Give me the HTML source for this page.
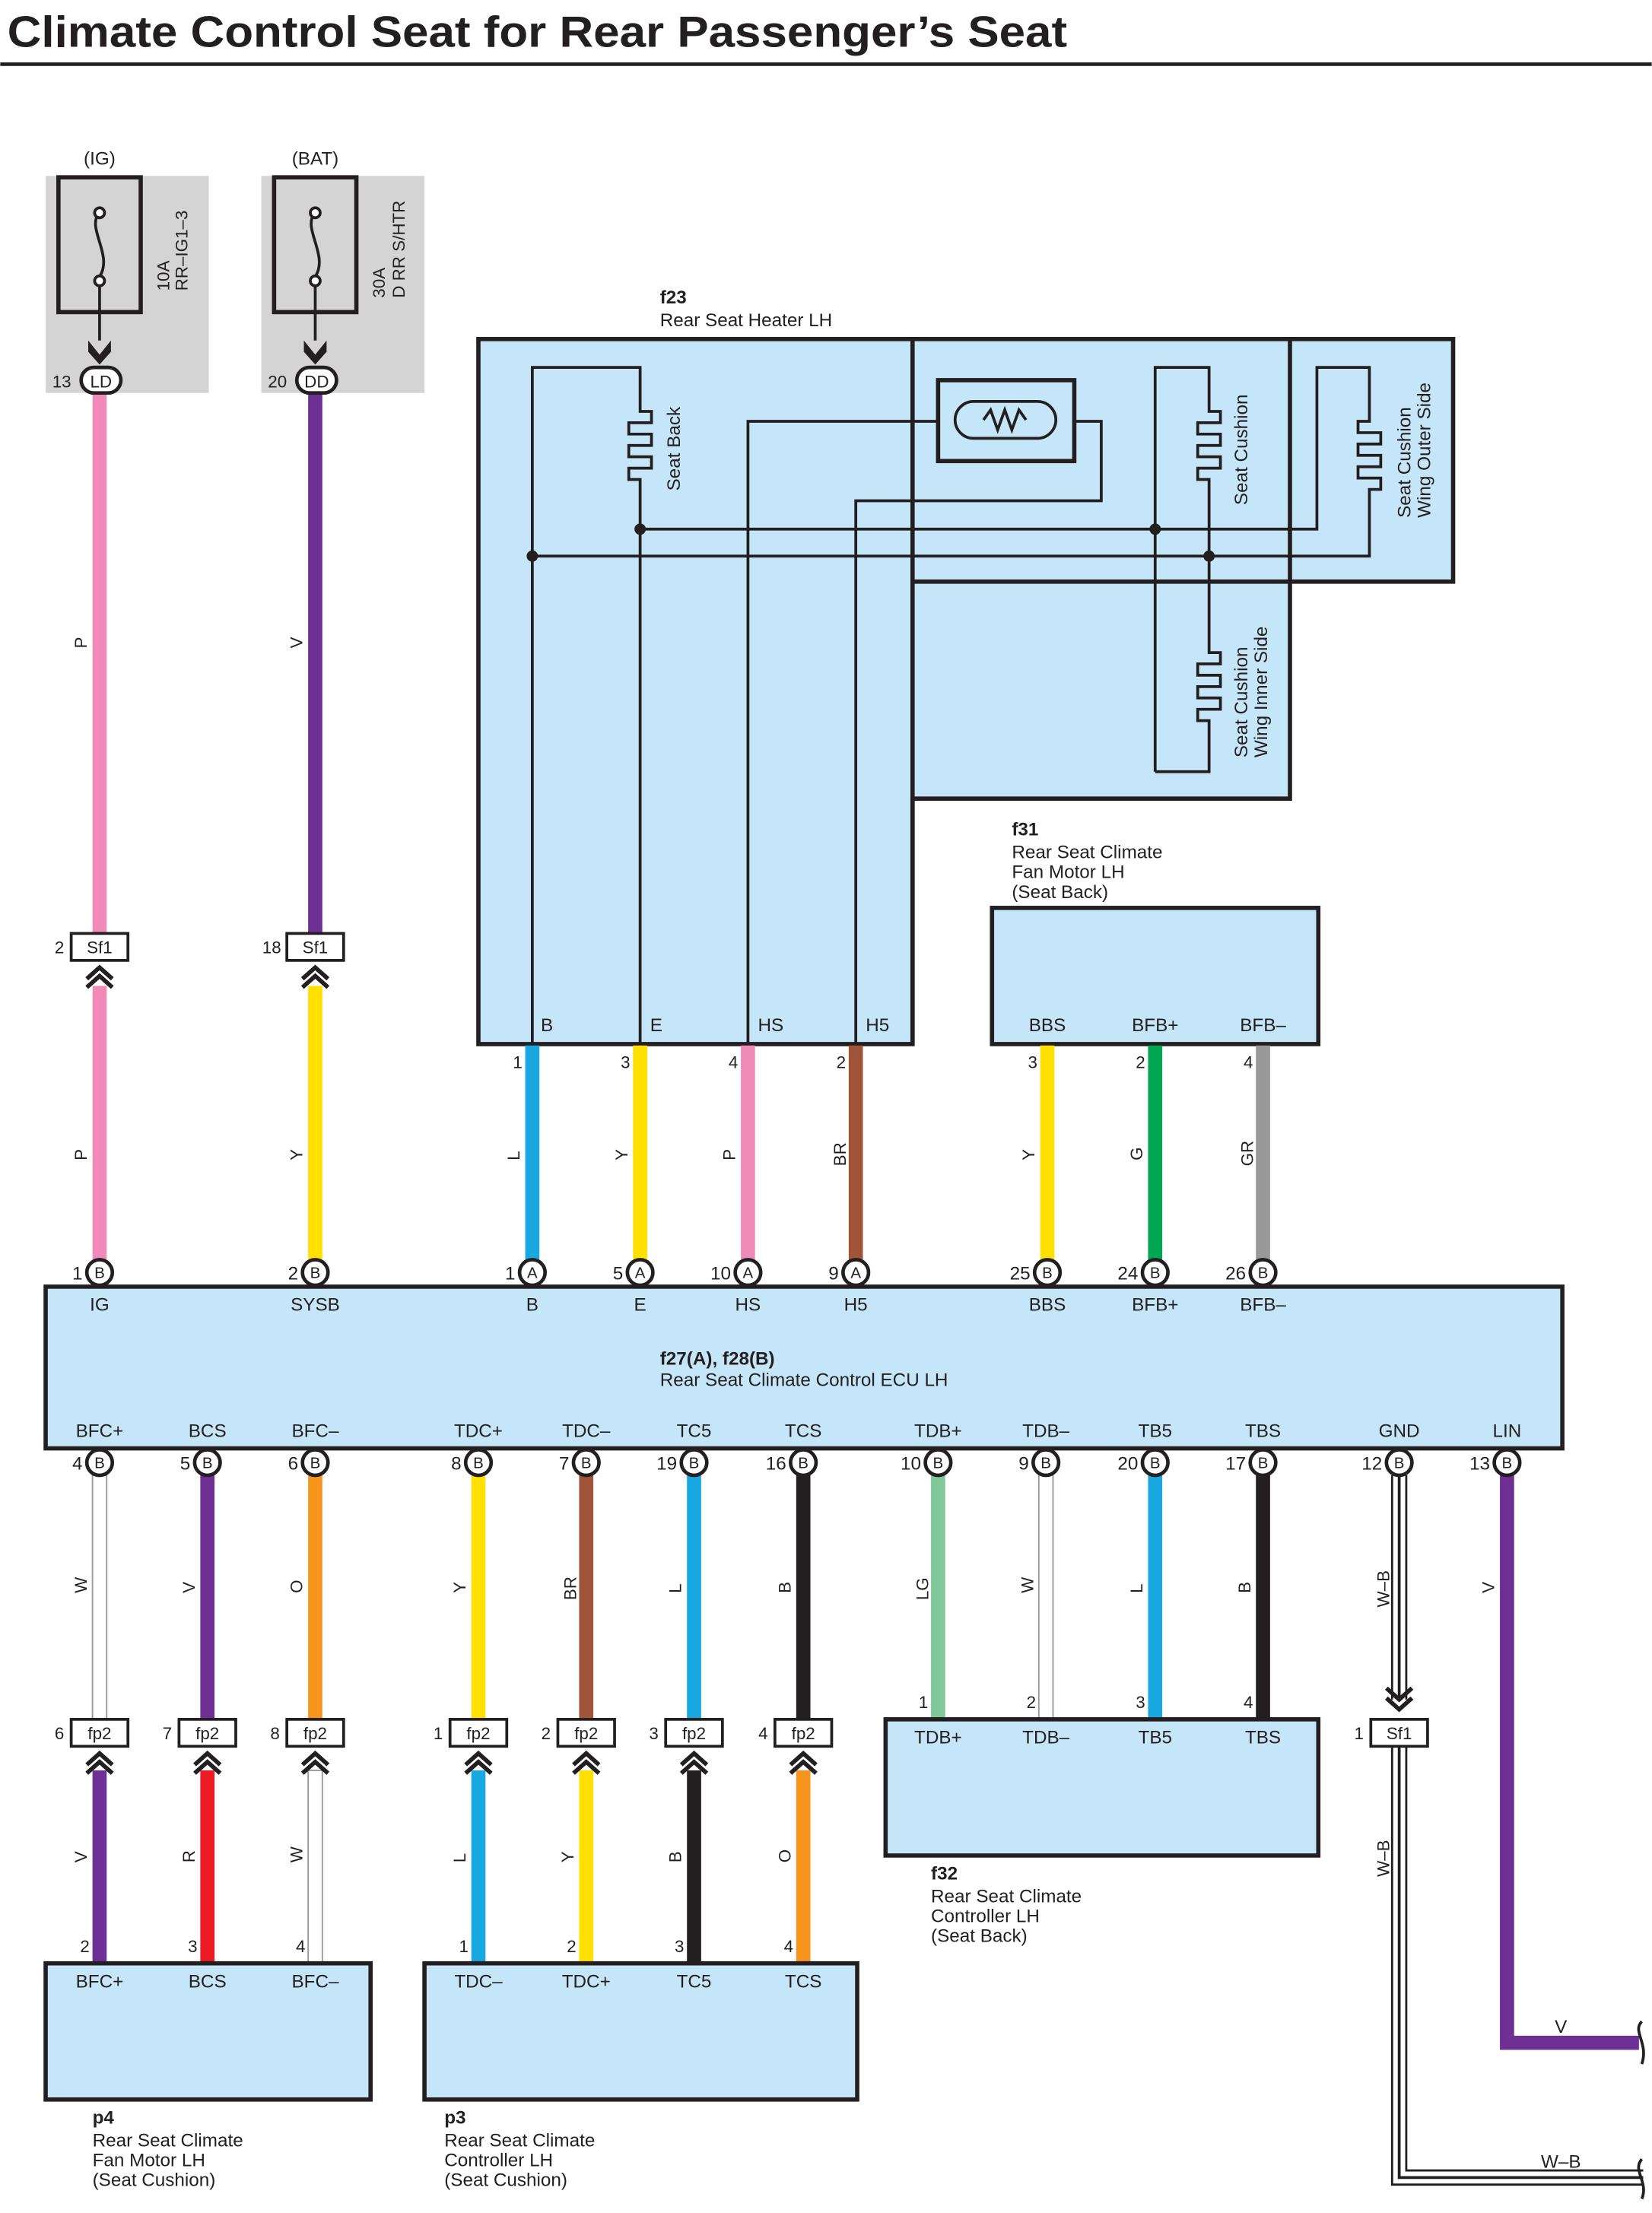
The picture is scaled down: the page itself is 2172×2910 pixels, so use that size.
<!DOCTYPE html>
<html><head><meta charset="utf-8"><style>
html,body{margin:0;padding:0;background:#fff}
svg{display:block}
text{font-family:"Liberation Sans",sans-serif;fill:#231f20}
</style></head><body>
<svg width="2172" height="2910" viewBox="0 0 1164 1560" xmlns="http://www.w3.org/2000/svg">
<defs>
<g id="chev"><path d="M-9,6 L0,-2 L9,6 M-9,12 L0,4 L9,12" fill="none" stroke="#231f20" stroke-width="3"/></g>
</defs>
<text x="5" y="33" font-size="31" font-weight="bold" textLength="747" lengthAdjust="spacingAndGlyphs">Climate Control Seat for Rear Passenger’s Seat</text>
<rect x="0" y="44" width="1164" height="2.5" fill="#231f20"/>

<!-- fuses -->
<rect x="32" y="124" width="115" height="153" fill="#d4d4d4"/>
<rect x="184" y="124" width="115" height="153" fill="#d4d4d4"/>
<text x="70" y="116" font-size="13" text-anchor="middle">(IG)</text>
<text x="222" y="116" font-size="13" text-anchor="middle">(BAT)</text>
<rect x="41" y="125" width="58" height="95" fill="#d4d4d4" stroke="#231f20" stroke-width="3"/>
<rect x="193" y="125" width="58" height="95" fill="#d4d4d4" stroke="#231f20" stroke-width="3"/>
<path d="M70,150 C60,160 80,180 70,195 V240" fill="none" stroke="#231f20" stroke-width="2"/>
<circle cx="70" cy="150" r="3.5" fill="#fff" stroke="#231f20" stroke-width="2"/>
<circle cx="70" cy="198" r="3.5" fill="#fff" stroke="#231f20" stroke-width="2"/>
<path d="M222,150 C212,160 232,180 222,195 V240" fill="none" stroke="#231f20" stroke-width="2"/>
<circle cx="222" cy="150" r="3.5" fill="#fff" stroke="#231f20" stroke-width="2"/>
<circle cx="222" cy="198" r="3.5" fill="#fff" stroke="#231f20" stroke-width="2"/>
<path d="M62,240 L70,250 L78,240 L78,248 L70,257 L62,248Z" fill="#231f20"/>
<path d="M214,240 L222,250 L230,240 L230,248 L222,257 L214,248Z" fill="#231f20"/>
<text transform="translate(119,205) rotate(-90)" font-size="12">10A</text>
<text transform="translate(132,205) rotate(-90)" font-size="12">RR–IG1–3</text>
<text transform="translate(271,210) rotate(-90)" font-size="12">30A</text>
<text transform="translate(285,210) rotate(-90)" font-size="12">D RR S/HTR</text>

<!-- wires top-left -->
<rect x="65" y="277" width="10" height="383" fill="#f08ab8"/>
<rect x="217" y="277" width="10" height="383" fill="#6f3096"/>
<rect x="65" y="695" width="10" height="195" fill="#f08ab8"/>
<rect x="217" y="695" width="10" height="195" fill="#ffe000"/>
<rect x="57" y="259" width="28" height="18" rx="9" fill="#fff" stroke="#231f20" stroke-width="2.5"/>
<rect x="209" y="259" width="28" height="18" rx="9" fill="#fff" stroke="#231f20" stroke-width="2.5"/>
<text x="71" y="273" font-size="12" text-anchor="middle">LD</text>
<text x="223" y="273" font-size="12" text-anchor="middle">DD</text>
<text x="50" y="273" font-size="12" text-anchor="end">13</text>
<text x="202" y="273" font-size="12" text-anchor="end">20</text>

<!-- f23 -->
<text x="465" y="214" font-size="13" font-weight="bold">f23</text>
<text x="465" y="230" font-size="13">Rear Seat Heater LH</text>
<path d="M337,239 H1024 V410 H909 V563 H643 V736 H337Z" fill="#c5e6f8" stroke="#231f20" stroke-width="3"/>
<path d="M643,239 V736 M643,410 H909 M909,239 V410" fill="none" stroke="#231f20" stroke-width="3"/>
<g fill="none" stroke="#231f20" stroke-width="2">
<path d="M375,736 V259 H451 V290 H459 V298 H443 V306 H459 V314 H443 V322 H459 V330 H443 V338 H451 V736"/>
<path d="M375,392 H965 V345 H973 V337 H957 V329 H973 V321 H957 V313 H973 V305 H957 V297 H965 V259 H928 V373 H451"/>
<path d="M814,544 V259 H852 V290 H860 V298 H844 V306 H860 V314 H844 V322 H860 V330 H844 V338 H852 V460 H860 V468 H844 V476 H860 V484 H844 V492 H860 V500 H844 V508 H852 V544 H814"/>
<path d="M527,736 V297 H661 M603,736 V353 H776 V297 H757"/>
<path d="M686,283 H731 A13,13 0 0 1 731,309 H686 A13,13 0 0 1 686,283Z"/>
<path d="M693,296 L698,289 L703,303 L708,289 L713,303 L718,289 L723,296"/>
</g>
<rect x="661" y="268" width="96" height="57" fill="none" stroke="#231f20" stroke-width="3"/>
<g fill="#231f20"><circle cx="375" cy="392" r="4"/><circle cx="451" cy="373" r="4"/><circle cx="814" cy="373" r="4"/><circle cx="852" cy="392" r="4"/></g>
<text transform="translate(479,346) rotate(-90)" font-size="13">Seat Back</text>
<text transform="translate(879,356) rotate(-90)" font-size="13">Seat Cushion</text>
<text transform="translate(994,365) rotate(-90)" font-size="13">Seat Cushion</text>
<text transform="translate(1008,365) rotate(-90)" font-size="13">Wing Outer Side</text>
<text transform="translate(879,534) rotate(-90)" font-size="13">Seat Cushion</text>
<text transform="translate(893,534) rotate(-90)" font-size="13">Wing Inner Side</text>
<g font-size="13"><text x="381" y="727">B</text><text x="458" y="727">E</text><text x="534" y="727">HS</text><text x="610" y="727">H5</text></g>

<!-- f31 -->
<text x="713" y="589" font-size="13" font-weight="bold">f31</text>
<text x="713" y="605" font-size="13">Rear Seat Climate</text>
<text x="713" y="619" font-size="13">Fan Motor LH</text>
<text x="713" y="633" font-size="13">(Seat Back)</text>
<rect x="699" y="640" width="230" height="96" fill="#c5e6f8" stroke="#231f20" stroke-width="3"/>
<g font-size="13" text-anchor="middle"><text x="738" y="727">BBS</text><text x="814" y="727">BFB+</text><text x="890" y="727">BFB–</text></g>

<!-- upper middle wires -->
<rect x="370" y="737" width="10" height="153" fill="#1aa8e0"/>
<rect x="446" y="737" width="10" height="153" fill="#ffe000"/>
<rect x="522" y="737" width="10" height="153" fill="#f08ab8"/>
<rect x="598" y="737" width="10" height="153" fill="#a0553a"/>
<rect x="733" y="737" width="10" height="153" fill="#ffe000"/>
<rect x="809" y="737" width="10" height="153" fill="#00a651"/>
<rect x="885" y="737" width="10" height="153" fill="#999"/>
<g font-size="12" text-anchor="end">
<text x="368" y="753">1</text><text x="444" y="753">3</text><text x="520" y="753">4</text><text x="596" y="753">2</text>
<text x="731" y="753">3</text><text x="807" y="753">2</text><text x="883" y="753">4</text>
</g>
<g font-size="12">
<text transform="translate(61,457) rotate(-90)">P</text>
<text transform="translate(213,457) rotate(-90)">V</text>
<text transform="translate(61,818) rotate(-90)">P</text>
<text transform="translate(213,818) rotate(-90)">Y</text>
<text transform="translate(366,818) rotate(-90)">L</text>
<text transform="translate(442,818) rotate(-90)">Y</text>
<text transform="translate(518,818) rotate(-90)">P</text>
<text transform="translate(596,822) rotate(-90)">BR</text>
<text transform="translate(729,818) rotate(-90)">Y</text>
<text transform="translate(805,818) rotate(-90)">G</text>
<text transform="translate(883,822) rotate(-90)">GR</text>
</g>

<!-- Sf1 top -->
<g stroke="#231f20" stroke-width="2" fill="#fff">
<rect x="50" y="658" width="40" height="19"/><rect x="202" y="658" width="40" height="19"/>
</g>
<text x="70" y="672" font-size="12" text-anchor="middle">Sf1</text>
<text x="222" y="672" font-size="12" text-anchor="middle">Sf1</text>
<text x="45" y="672" font-size="12" text-anchor="end">2</text>
<text x="198" y="672" font-size="12" text-anchor="end">18</text>
<use href="#chev" x="70" y="684"/><use href="#chev" x="222" y="684"/>

<!-- ECU -->
<rect x="32" y="907" width="1069" height="114" fill="#c5e6f8" stroke="#231f20" stroke-width="3"/>
<text x="465" y="962" font-size="13" font-weight="bold">f27(A), f28(B)</text>
<text x="465" y="977" font-size="13">Rear Seat Climate Control ECU LH</text>
<g font-size="13" text-anchor="middle">
<text x="70" y="924">IG</text><text x="222" y="924">SYSB</text><text x="375" y="924">B</text><text x="451" y="924">E</text><text x="527" y="924">HS</text><text x="603" y="924">H5</text><text x="738" y="924">BBS</text><text x="814" y="924">BFB+</text><text x="890" y="924">BFB–</text>
<text x="70" y="1013">BFC+</text><text x="146" y="1013">BCS</text><text x="222" y="1013">BFC–</text><text x="337" y="1013">TDC+</text><text x="413" y="1013">TDC–</text><text x="489" y="1013">TC5</text><text x="566" y="1013">TCS</text><text x="661" y="1013">TDB+</text><text x="737" y="1013">TDB–</text><text x="814" y="1013">TB5</text><text x="890" y="1013">TBS</text><text x="986" y="1013">GND</text><text x="1062" y="1013">LIN</text>
</g>

<!-- lower wires -->
<rect x="65" y="1040" width="10" height="172" fill="#fff" stroke="#999" stroke-width="1"/>
<rect x="141" y="1040" width="10" height="172" fill="#6f3096"/>
<rect x="217" y="1040" width="10" height="172" fill="#f7941d"/>
<rect x="332" y="1040" width="10" height="172" fill="#ffe000"/>
<rect x="408" y="1040" width="10" height="172" fill="#a0553a"/>
<rect x="484" y="1040" width="10" height="172" fill="#1aa8e0"/>
<rect x="561" y="1040" width="10" height="172" fill="#231f20"/>
<rect x="656" y="1040" width="10" height="172" fill="#80c89a"/>
<rect x="732" y="1040" width="10" height="172" fill="#fff" stroke="#999" stroke-width="1"/>
<rect x="809" y="1040" width="10" height="172" fill="#1aa8e0"/>
<rect x="885" y="1040" width="10" height="172" fill="#231f20"/>
<path d="M1062,1040 V1440 H1155" fill="none" stroke="#6f3096" stroke-width="10"/>
<g fill="none" stroke="#231f20" stroke-width="1.5">
<path d="M981,1040 V1198 M991,1040 V1198"/>
<path d="M981,1231 V1540 H1158 M991,1231 V1530 H1158"/>
</g>
<path d="M986,1040 V1198" stroke="#fff" stroke-width="8"/>
<path d="M986,1231 V1535 H1158" fill="none" stroke="#fff" stroke-width="8"/>
<path d="M986,1040 V1198 M986,1231 V1535 H1158" fill="none" stroke="#231f20" stroke-width="2"/>
<path d="M977,1190 L986,1198 L995,1190 M977,1197 L986,1205 L995,1197" fill="none" stroke="#231f20" stroke-width="3"/>
<path d="M1157,1425 C1150,1432 1162,1440 1157,1455 M1157,1522 C1150,1530 1162,1538 1157,1550" fill="none" stroke="#231f20" stroke-width="2"/>
<text x="1100" y="1433" font-size="13" text-anchor="middle">V</text>
<text x="1100" y="1528" font-size="13" text-anchor="middle">W–B</text>

<g font-size="12">
<text transform="translate(61,1123) rotate(-90)">W</text>
<text transform="translate(137,1123) rotate(-90)">V</text>
<text transform="translate(213,1123) rotate(-90)">O</text>
<text transform="translate(328,1123) rotate(-90)">Y</text>
<text transform="translate(406,1128) rotate(-90)">BR</text>
<text transform="translate(480,1123) rotate(-90)">L</text>
<text transform="translate(557,1123) rotate(-90)">B</text>
<text transform="translate(654,1128) rotate(-90)">LG</text>
<text transform="translate(728,1123) rotate(-90)">W</text>
<text transform="translate(805,1123) rotate(-90)">L</text>
<text transform="translate(881,1123) rotate(-90)">B</text>
<text transform="translate(979,1133) rotate(-90)">W–B</text>
<text transform="translate(1053,1123) rotate(-90)">V</text>
<text transform="translate(979,1323) rotate(-90)">W–B</text>
<text transform="translate(61,1313) rotate(-90)">V</text>
<text transform="translate(137,1313) rotate(-90)">R</text>
<text transform="translate(213,1313) rotate(-90)">W</text>
<text transform="translate(328,1313) rotate(-90)">L</text>
<text transform="translate(404,1313) rotate(-90)">Y</text>
<text transform="translate(480,1313) rotate(-90)">B</text>
<text transform="translate(557,1313) rotate(-90)">O</text>
</g>

<!-- below fp2 -->
<rect x="65" y="1248" width="10" height="136" fill="#6f3096"/>
<rect x="141" y="1248" width="10" height="136" fill="#ed1c24"/>
<rect x="217" y="1248" width="10" height="136" fill="#fff" stroke="#999" stroke-width="1"/>
<rect x="332" y="1248" width="10" height="136" fill="#1aa8e0"/>
<rect x="408" y="1248" width="10" height="136" fill="#ffe000"/>
<rect x="484" y="1248" width="10" height="136" fill="#231f20"/>
<rect x="561" y="1248" width="10" height="136" fill="#f7941d"/>

<g stroke="#231f20" stroke-width="2" fill="#fff">
<rect x="50" y="1212" width="40" height="19"/><rect x="126" y="1212" width="40" height="19"/><rect x="202" y="1212" width="40" height="19"/>
<rect x="317" y="1212" width="40" height="19"/><rect x="393" y="1212" width="40" height="19"/><rect x="469" y="1212" width="40" height="19"/><rect x="546" y="1212" width="40" height="19"/>
<rect x="966" y="1212" width="40" height="19"/>
</g>
<g font-size="12" text-anchor="middle">
<text x="70" y="1226">fp2</text><text x="146" y="1226">fp2</text><text x="222" y="1226">fp2</text><text x="337" y="1226">fp2</text><text x="413" y="1226">fp2</text><text x="489" y="1226">fp2</text><text x="566" y="1226">fp2</text><text x="986" y="1226">Sf1</text>
</g>
<g font-size="12" text-anchor="end">
<text x="45" y="1226">6</text><text x="121" y="1226">7</text><text x="197" y="1226">8</text><text x="312" y="1226">1</text><text x="388" y="1226">2</text><text x="464" y="1226">3</text><text x="541" y="1226">4</text><text x="961" y="1226">1</text>
<text x="63" y="1376">2</text><text x="139" y="1376">3</text><text x="215" y="1376">4</text><text x="330" y="1376">1</text><text x="406" y="1376">2</text><text x="482" y="1376">3</text><text x="559" y="1376">4</text>
<text x="654" y="1204">1</text><text x="730" y="1204">2</text><text x="807" y="1204">3</text><text x="883" y="1204">4</text>
</g>
<use href="#chev" x="70" y="1238"/><use href="#chev" x="146" y="1238"/><use href="#chev" x="222" y="1238"/><use href="#chev" x="337" y="1238"/><use href="#chev" x="413" y="1238"/><use href="#chev" x="489" y="1238"/><use href="#chev" x="566" y="1238"/>

<!-- f32 -->
<rect x="624" y="1212" width="305" height="96" fill="#c5e6f8" stroke="#231f20" stroke-width="3"/>
<g font-size="13" text-anchor="middle"><text x="661" y="1229">TDB+</text><text x="737" y="1229">TDB–</text><text x="814" y="1229">TB5</text><text x="890" y="1229">TBS</text></g>
<text x="656" y="1325" font-size="13" font-weight="bold">f32</text>
<text x="656" y="1341" font-size="13">Rear Seat Climate</text>
<text x="656" y="1355" font-size="13">Controller LH</text>
<text x="656" y="1369" font-size="13">(Seat Back)</text>

<!-- p4, p3 -->
<rect x="32" y="1384" width="229" height="96" fill="#c5e6f8" stroke="#231f20" stroke-width="3"/>
<rect x="299" y="1384" width="305" height="96" fill="#c5e6f8" stroke="#231f20" stroke-width="3"/>
<g font-size="13" text-anchor="middle">
<text x="70" y="1401">BFC+</text><text x="146" y="1401">BCS</text><text x="222" y="1401">BFC–</text>
<text x="337" y="1401">TDC–</text><text x="413" y="1401">TDC+</text><text x="489" y="1401">TC5</text><text x="566" y="1401">TCS</text>
</g>
<text x="65" y="1497" font-size="13" font-weight="bold">p4</text>
<text x="65" y="1513" font-size="13">Rear Seat Climate</text>
<text x="65" y="1527" font-size="13">Fan Motor LH</text>
<text x="65" y="1541" font-size="13">(Seat Cushion)</text>
<text x="313" y="1497" font-size="13" font-weight="bold">p3</text>
<text x="313" y="1513" font-size="13">Rear Seat Climate</text>
<text x="313" y="1527" font-size="13">Controller LH</text>
<text x="313" y="1541" font-size="13">(Seat Cushion)</text>

<!-- connector circles -->
<g stroke="#231f20" stroke-width="2.5" fill="#fff">
<circle cx="70" cy="897" r="9"/><circle cx="222" cy="897" r="9"/><circle cx="375" cy="897" r="9"/><circle cx="451" cy="897" r="9"/><circle cx="527" cy="897" r="9"/><circle cx="603" cy="897" r="9"/><circle cx="738" cy="897" r="9"/><circle cx="814" cy="897" r="9"/><circle cx="890" cy="897" r="9"/>
<circle cx="70" cy="1031" r="9"/><circle cx="146" cy="1031" r="9"/><circle cx="222" cy="1031" r="9"/><circle cx="337" cy="1031" r="9"/><circle cx="413" cy="1031" r="9"/><circle cx="489" cy="1031" r="9"/><circle cx="566" cy="1031" r="9"/><circle cx="661" cy="1031" r="9"/><circle cx="737" cy="1031" r="9"/><circle cx="814" cy="1031" r="9"/><circle cx="890" cy="1031" r="9"/><circle cx="986" cy="1031" r="9"/><circle cx="1062" cy="1031" r="9"/>
</g>
<g font-size="11" text-anchor="middle">
<text x="70" y="901">B</text><text x="222" y="901">B</text><text x="375" y="901">A</text><text x="451" y="901">A</text><text x="527" y="901">A</text><text x="603" y="901">A</text><text x="738" y="901">B</text><text x="814" y="901">B</text><text x="890" y="901">B</text>
<text x="70" y="1035">B</text><text x="146" y="1035">B</text><text x="222" y="1035">B</text><text x="337" y="1035">B</text><text x="413" y="1035">B</text><text x="489" y="1035">B</text><text x="566" y="1035">B</text><text x="661" y="1035">B</text><text x="737" y="1035">B</text><text x="814" y="1035">B</text><text x="890" y="1035">B</text><text x="986" y="1035">B</text><text x="1062" y="1035">B</text>
</g>
<g font-size="13" text-anchor="end">
<text x="58" y="902">1</text><text x="210" y="902">2</text><text x="363" y="902">1</text><text x="439" y="902">5</text><text x="515" y="902">10</text><text x="591" y="902">9</text><text x="726" y="902">25</text><text x="802" y="902">24</text><text x="878" y="902">26</text>
<text x="58" y="1036">4</text><text x="134" y="1036">5</text><text x="210" y="1036">6</text><text x="325" y="1036">8</text><text x="401" y="1036">7</text><text x="477" y="1036">19</text><text x="554" y="1036">16</text><text x="649" y="1036">10</text><text x="725" y="1036">9</text><text x="802" y="1036">20</text><text x="878" y="1036">17</text><text x="974" y="1036">12</text><text x="1050" y="1036">13</text>
</g>
</svg>
</body></html>
